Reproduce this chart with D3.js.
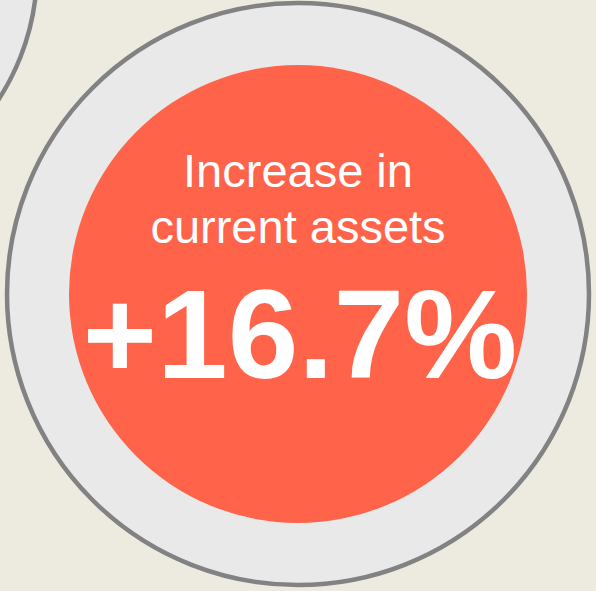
<!DOCTYPE html>
<html><head><meta charset="utf-8">
<script src="https://cdn.jsdelivr.net/npm/d3@7"></script>
<style>html,body{margin:0;padding:0;background:#EDEBE0;}svg{display:block;}</style>
</head><body>
<script>
const labelLines = ["Increase in", "current assets"];
const values = [16.7];
const valueLabels = ["+16.7%"];
const rings = [
  {name: "previous", cx: -200, cy: -30, r: 237},
  {name: "current", cx: 298, cy: 294, r: 291}
];

const W = 596, H = 591;
const svg = d3.select("body").append("svg").attr("width", W).attr("height", H);
svg.append("rect").attr("width", W).attr("height", H).attr("fill", "#EDEBE0");

svg.selectAll("circle.ring").data(rings).join("circle")
  .attr("class", "ring")
  .attr("cx", d => d.cx).attr("cy", d => d.cy).attr("r", d => d.r)
  .attr("fill", "#E9E9E9").attr("stroke", "#828282").attr("stroke-width", 4.5);

const main = rings[1];
const rScale = d3.scaleLinear().domain([0, 16.7]).range([0, 229]);
svg.selectAll("circle.val").data(values).join("circle")
  .attr("class", "val")
  .attr("cx", main.cx).attr("cy", main.cy).attr("r", d => rScale(d))
  .attr("fill", "#FF6349");

svg.selectAll("text.lbl").data(labelLines).join("text")
  .attr("class", "lbl")
  .attr("x", main.cx).attr("y", (d, i) => 187 + i * 56)
  .attr("text-anchor", "middle")
  .attr("font-family", "Liberation Sans, Arial, sans-serif")
  .attr("font-size", 47).attr("fill", "#fff")
  .text(d => d);

svg.selectAll("text.val").data(valueLabels).join("text")
  .attr("class", "val")
  .attr("x", main.cx + 2).attr("y", 378)
  .attr("text-anchor", "middle")
  .attr("font-family", "Liberation Sans, Arial, sans-serif")
  .attr("font-weight", "bold")
  .attr("font-size", 127).attr("fill", "#fff")
  .text(d => d);
</script>
</body></html>
